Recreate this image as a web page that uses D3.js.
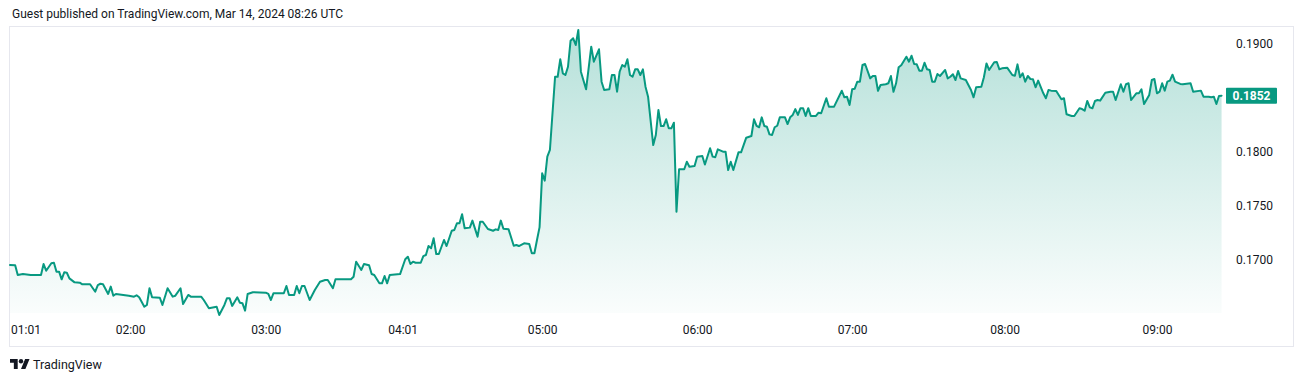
<!DOCTYPE html>
<html>
<head>
<meta charset="utf-8">
<script src="https://cdn.jsdelivr.net/npm/d3@7"></script>
<style>
  html, body { margin: 0; padding: 0; background: #ffffff; }
  svg { display: block; }
  text { font-family: Roboto, "Liberation Sans", sans-serif; }
</style>
</head>
<body>
<svg id="chart" width="1304" height="382"></svg>
<script>
// ---- data ----
const headerText = "Guest published on TradingView.com, Mar 14, 2024 08:26 UTC";
const brandText = "TradingView";
const lastPrice = 0.1852;
const priceTicks = [0.190, 0.180, 0.175, 0.170];
const timeTickBars = [6, 46.5, 99, 152, 206, 266, 326, 385, 444];
const timeTickLabels = ["01:01", "02:00", "03:00", "04:01", "05:00", "06:00", "07:00", "08:00", "09:00"];
// [bar index, close price]
const points = [
[0,0.16948],[2,0.16945],[3,0.16855],[5,0.16864],[8,0.16855],[12,0.16855],[13,0.16957],[14,0.16895],[16,0.16964],[17,0.16969],
[18,0.16886],[19,0.16886],[20,0.16815],[21,0.16880],[22,0.16876],[23,0.16824],[25,0.16787],[27,0.16784],[28,0.16769],[31,0.16769],
[33,0.16700],[34,0.16762],[35,0.16774],[36,0.16769],[38,0.16679],[39,0.16747],[40,0.16663],[41,0.16679],[46,0.16663],[48,0.16654],
[49,0.16667],[50,0.16648],[52,0.16561],[53,0.16577],[54,0.16732],[55,0.16648],[58,0.16644],[59,0.16577],[61,0.16732],[63,0.16654],
[64,0.16663],[66,0.16732],[67,0.16586],[69,0.16670],[70,0.16654],[74,0.16654],[75,0.16623],[77,0.16546],[78,0.16551],[80,0.16561],
[81,0.16484],[83,0.16577],[84,0.16640],[85,0.16640],[86,0.16568],[88,0.16648],[89,0.16598],[90,0.16592],[91,0.16524],[92,0.16679],
[94,0.16695],[99,0.16691],[100,0.16679],[101,0.16623],[102,0.16686],[106,0.16686],[107,0.16753],[108,0.16670],[110,0.16670],[111,0.16753],
[112,0.16686],[113,0.16753],[114,0.16753],[116,0.16623],[118,0.16716],[120,0.16793],[122,0.16809],[123,0.16809],[125,0.16732],[126,0.16815],
[132,0.16815],[133,0.16839],[134,0.16979],[136,0.16902],[137,0.16957],[139,0.16945],[140,0.16864],[141,0.16855],[143,0.16778],[144,0.16778],
[145,0.16846],[146,0.16778],[147,0.16855],[151,0.16864],[153,0.17001],[154,0.17025],[155,0.16957],[156,0.16979],[157,0.16969],[159,0.16969],
[160,0.17031],[161,0.17041],[162,0.17124],[163,0.17103],[164,0.17196],[165,0.17050],[166,0.17050],[168,0.17180],[169,0.17124],[171,0.17266],
[172,0.17273],[173,0.17335],[174,0.17335],[175,0.17419],[176,0.17289],[178,0.17295],[179,0.17360],[181,0.17211],[182,0.17350],[183,0.17350],
[185,0.17282],[187,0.17266],[188,0.17279],[189,0.17273],[190,0.17360],[191,0.17285],[193,0.17279],[195,0.17127],[196,0.17134],[197,0.17124],
[199,0.17149],[201,0.17143],[202,0.17057],[203,0.17057],[204,0.17180],[205,0.17300],[206,0.17799],[207,0.17731],[208,0.17954],[209,0.18016],
[211,0.18696],[212,0.18696],[213,0.18858],[214,0.18728],[215,0.18712],[216,0.18789],[217,0.19031],[218,0.19053],[219,0.18991],[220,0.19130],
[221,0.18743],[223,0.18579],[225,0.18975],[226,0.18836],[228,0.18951],[229,0.18650],[230,0.18573],[232,0.18579],[233,0.18712],[234,0.18712],
[235,0.18557],[236,0.18743],[237,0.18805],[238,0.18789],[239,0.18858],[240,0.18712],[241,0.18696],[242,0.18765],[243,0.18765],[244,0.18712],
[245,0.18765],[246,0.18604],[247,0.18511],[249,0.18062],[250,0.18155],[251,0.18387],[252,0.18238],[253,0.18238],[254,0.18301],[255,0.18217],
[256,0.18217],[257,0.18269],[258,0.17443],[259,0.17837],[261,0.17837],[262,0.17907],[263,0.17861],[265,0.17867],[266,0.17954],[268,0.17960],
[269,0.17881],[271,0.18032],[272,0.17954],[273,0.17948],[274,0.18022],[276,0.18000],[277,0.18000],[278,0.17830],[279,0.17907],[280,0.17830],
[282,0.17994],[283,0.17994],[285,0.18130],[287,0.18146],[288,0.18301],[289,0.18239],[290,0.18227],[291,0.18319],[292,0.18239],[293,0.18232],
[294,0.18161],[295,0.18155],[296,0.18227],[297,0.18241],[298,0.18319],[300,0.18319],[301,0.18257],[302,0.18319],[303,0.18341],[304,0.18396],
[305,0.18341],[306,0.18404],[307,0.18404],[308,0.18332],[309,0.18404],[310,0.18332],[312,0.18332],[313,0.18362],[314,0.18357],[316,0.18496],
[317,0.18418],[319,0.18418],[322,0.18566],[323,0.18505],[324,0.18511],[325,0.18434],[326,0.18579],[327,0.18585],[328,0.18650],[329,0.18650],
[330,0.18805],[331,0.18814],[333,0.18681],[334,0.18703],[335,0.18703],[336,0.18566],[337,0.18619],[339,0.18626],[340,0.18635],[341,0.18703],
[342,0.18556],[343,0.18635],[344,0.18784],[345,0.18802],[347,0.18882],[348,0.18836],[349,0.18891],[350,0.18814],[351,0.18811],[352,0.18752],
[353,0.18752],[354,0.18826],[355,0.18765],[356,0.18759],[357,0.18650],[358,0.18650],[359,0.18721],[360,0.18703],[362,0.18759],[363,0.18681],
[364,0.18696],[365,0.18719],[366,0.18666],[367,0.18750],[368,0.18681],[370,0.18666],[372,0.18573],[373,0.18505],[374,0.18598],[376,0.18604],
[377,0.18691],[378,0.18819],[379,0.18759],[381,0.18831],[382,0.18833],[383,0.18765],[384,0.18774],[386,0.18780],[388,0.18712],[389,0.18705],
[390,0.18811],[391,0.18691],[392,0.18728],[393,0.18650],[394,0.18703],[395,0.18675],[396,0.18672],[397,0.18598],[398,0.18660],[400,0.18542],
[401,0.18496],[402,0.18573],[403,0.18567],[405,0.18564],[407,0.18487],[408,0.18496],[409,0.18347],[411,0.18332],[412,0.18332],[414,0.18403],
[415,0.18396],[416,0.18381],[417,0.18471],[418,0.18412],[419,0.18403],[420,0.18471],[421,0.18480],[422,0.18474],[424,0.18548],[426,0.18557],
[427,0.18557],[428,0.18480],[430,0.18626],[431,0.18557],[432,0.18626],[433,0.18635],[434,0.18480],[436,0.18542],[437,0.18542],[438,0.18579],
[439,0.18443],[441,0.18527],[442,0.18666],[443,0.18675],[444,0.18542],[445,0.18557],[446,0.18635],[447,0.18567],[448,0.18650],[449,0.18660],
[450,0.18715],[451,0.18650],[453,0.18629],[454,0.18626],[457,0.18635],[458,0.18557],[461,0.18567],[462,0.18511],[464,0.18511],[465,0.18505],
[466,0.18511],[467,0.18443],[468,0.18517],[469,0.18520]
];

// ---- layout ----
const svg = d3.select("#chart");
const frame = {left: 9.5, top: 26.5, right: 1293.5, bottom: 346.5};
const pane = {left: 10, right: 1222, top: 27, bottom: 313};
const green = "#089981";
const textColor = "#131722";

const x = d3.scaleLinear().domain([0, 469]).range([10, 10 + 469 * 2.5833]);
const y = d3.scaleLinear().domain([0.170, 0.190]).range([259.4, 44]);

// header
svg.append("text")
  .attr("x", 12).attr("y", 18)
  .attr("font-size", 12).attr("fill", textColor)
  .text(headerText);

// frame
svg.append("rect")
  .attr("x", frame.left).attr("y", frame.top)
  .attr("width", frame.right - frame.left).attr("height", frame.bottom - frame.top)
  .attr("fill", "#ffffff").attr("stroke", "#e6e7ee").attr("stroke-width", 1);

// gradient
const defs = svg.append("defs");
const grad = defs.append("linearGradient").attr("id", "areaGrad")
  .attr("gradientUnits", "userSpaceOnUse")
  .attr("x1", 0).attr("x2", 0).attr("y1", pane.top).attr("y2", pane.bottom);
grad.append("stop").attr("offset", "0%").attr("stop-color", green).attr("stop-opacity", 0.30);
grad.append("stop").attr("offset", "100%").attr("stop-color", green).attr("stop-opacity", 0.02);

const area = d3.area()
  .x(d => x(d[0])).y0(pane.bottom).y1(d => y(d[1]));
svg.append("path").datum(points)
  .attr("d", area).attr("fill", "url(#areaGrad)");

const line = d3.line().x(d => x(d[0])).y(d => y(d[1]));
svg.append("path").datum(points)
  .attr("d", line).attr("fill", "none")
  .attr("stroke", green).attr("stroke-width", 2)
  .attr("stroke-linejoin", "round").attr("stroke-linecap", "round");

// price axis
const yAxis = d3.axisRight(y).tickValues(priceTicks).tickSize(0).tickPadding(0)
  .tickFormat(d3.format(".4f"));
const gy = svg.append("g").attr("transform", "translate(1236,0)").call(yAxis);
gy.select(".domain").remove();
gy.selectAll("text").attr("font-size", 12).attr("fill", textColor)
  .attr("font-family", "Roboto, sans-serif");

// last price label
const lp = svg.append("g");
lp.append("rect")
  .attr("x", 1226).attr("y", y(lastPrice) - 8)
  .attr("width", 51).attr("height", 16).attr("rx", 1)
  .attr("fill", green);
lp.append("text")
  .attr("x", 1251.5).attr("y", y(lastPrice))
  .attr("dy", "0.35em").attr("text-anchor", "middle")
  .attr("font-size", 12).attr("font-weight", "bold").attr("fill", "#ffffff")
  .text(d3.format(".4f")(lastPrice));

// time axis
const xAxis = d3.axisBottom(x).tickValues(timeTickBars).tickSize(0).tickPadding(0)
  .tickFormat((d, i) => timeTickLabels[i]);
const gx = svg.append("g").attr("transform", "translate(0,325)").call(xAxis);
gx.select(".domain").remove();
gx.selectAll("text").attr("font-size", 12).attr("fill", textColor)
  .attr("font-family", "Roboto, sans-serif");

// brand logo
const logo = svg.append("g").attr("transform", "translate(10,356.8) scale(0.55)")
  .attr("fill", textColor);
logo.append("path").attr("d", "M14 22H7V11H0V4h14v18zM28 22h-8l7.5-18h8L28 22z");
logo.append("circle").attr("cx", 20).attr("cy", 8).attr("r", 4);
svg.append("text")
  .attr("x", 33).attr("y", 368.5)
  .attr("font-size", 12.5).attr("fill", textColor)
  .text(brandText);
</script>
</body>
</html>
